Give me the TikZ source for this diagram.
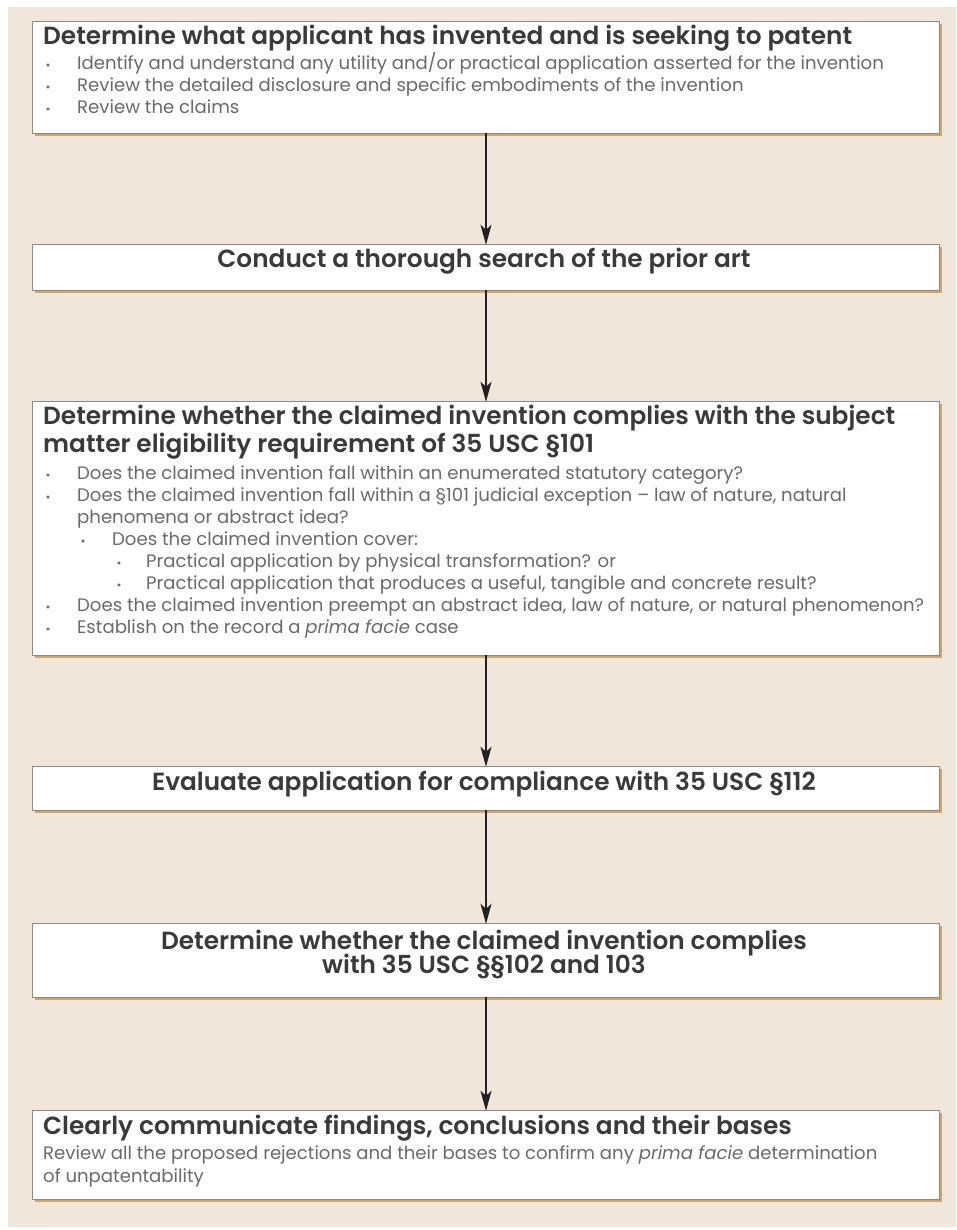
\documentclass[tikz,border=0pt]{standalone}
\usepackage{fontspec}
\setmainfont{Poppins}
\newfontfamily\titlefont{Poppins SemiBold}
\usetikzlibrary{arrows.meta}
\definecolor{beige}{HTML}{F0E6DA}
\definecolor{shadowtan}{HTML}{D2A56A}
\definecolor{boxline}{HTML}{8A8A8A}
\definecolor{titlecol}{HTML}{3A3A3A}
\definecolor{bodycol}{HTML}{6A6A6A}
\definecolor{arrowcol}{HTML}{222222}
\tikzset{
  titletext/.style={anchor=mid west, inner sep=0pt, text=titlecol, font=\fontsize{24.8}{28}\titlefont},
  ctitletext/.style={anchor=mid, inner sep=0pt, text=titlecol, font=\fontsize{24.8}{28}\titlefont},
  bodytext/.style={anchor=mid west, inner sep=0pt, text=bodycol, font=\fontsize{18.1}{22}\selectfont},
  bullet/.style={anchor=mid, inner sep=0pt, text=bodycol, font=\fontsize{12}{14}\selectfont},
  flow/.style={draw=arrowcol, line width=1.4pt, -{Stealth[length=20pt,width=11pt,inset=5pt]}}
}
\newcommand{\boxshadow}[1]{\fill[shadowtan] ([xshift=2.5pt,yshift=-2.5pt]#1.south west) rectangle ([xshift=2.5pt,yshift=-2.5pt]#1.north east);}
\begin{document}
\begin{tikzpicture}[x=1pt,y=-1pt]
\useasboundingbox (0,0) rectangle (956,1230);
\fill[white] (0,0) rectangle (956,1230);
\fill[beige] (8,7) rectangle (956,1227);

% boxes
\path (486,77.5) node[minimum height=111pt, minimum width=906pt, inner sep=0pt] (b1) {};
\path (486,267.5) node[minimum height=45pt, minimum width=906pt, inner sep=0pt] (b2) {};
\path (486,528.5) node[minimum height=253pt, minimum width=906pt, inner sep=0pt] (b3) {};
\path (486,788.5) node[minimum height=43pt, minimum width=906pt, inner sep=0pt] (b4) {};
\path (486,960.5) node[minimum height=73pt, minimum width=906pt, inner sep=0pt] (b5) {};
\path (486,1155) node[minimum height=88pt, minimum width=906pt, inner sep=0pt] (b6) {};
\foreach \b in {b1,b2,b3,b4,b5,b6}{
  \boxshadow{\b}
  \draw[boxline, line width=1.3pt, fill=white] (\b.south west) rectangle (\b.north east);
}

% box 1
\node[titletext] (t1) at (43,42) {Determine what applicant has invented and is seeking to patent};
\node[bullet] (t1a) at (48,67) {•};
\node[bodytext] (t1at) at (77,67) {Identify and understand any utility and/or practical application asserted for the invention};
\node[bullet] (t1b) at (48,89) {•};
\node[bodytext] (t1bt) at (77,89) {Review the detailed disclosure and specific embodiments of the invention};
\node[bullet] (t1c) at (48,111) {•};
\node[bodytext] (t1ct) at (77,111) {Review the claims};

% box 2
\node[ctitletext] (t2) at (484,265) {Conduct a thorough search of the prior art};

% box 3
\node[titletext] (t3a) at (43,422) {Determine whether the claimed invention complies with the subject};
\node[titletext] (t3b) at (43,450) {matter eligibility requirement of 35 USC §101};
\node[bullet] (u1) at (48,477) {•};
\node[bodytext] (u1t) at (77,477) {Does the claimed invention fall within an enumerated statutory category?};
\node[bullet] (u2) at (48,499) {•};
\node[bodytext] (u2t) at (77,499) {Does the claimed invention fall within a §101 judicial exception – law of nature, natural};
\node[bodytext] (u2u) at (77,521) {phenomena or abstract idea?};
\node[bullet] (u3) at (83,543) {•};
\node[bodytext] (u3t) at (112,543) {Does the claimed invention cover:};
\node[bullet] (u4) at (119,565) {•};
\node[bodytext] (u4t) at (146,565) {Practical application by physical transformation? or};
\node[bullet] (u5) at (119,587) {•};
\node[bodytext] (u5t) at (146,587) {Practical application that produces a useful, tangible and concrete result?};
\node[bullet] (u6) at (48,609) {•};
\node[bodytext] (u6t) at (77,609) {Does the claimed invention preempt an abstract idea, law of nature, or natural phenomenon?};
\node[bullet] (u7) at (48,631) {•};
\node[bodytext] (u7t) at (77,631) {Establish on the record a \textit{prima facie} case};

% box 4
\node[ctitletext] (t4) at (484,788) {Evaluate application for compliance with 35 USC §112};

% box 5
\node[ctitletext] (t5a) at (484,947) {Determine whether the claimed invention complies};
\node[ctitletext] (t5b) at (484,971) {with 35 USC §§102 and 103};

% box 6
\node[titletext] (t6) at (43,1132) {Clearly communicate findings, conclusions and their bases};
\node[bodytext] (t6a) at (43,1157) {Review all the proposed rejections and their bases to confirm any \textit{prima facie} determination};
\node[bodytext] (t6b) at (43,1180) {of unpatentability};

% connectors
\draw[flow] (b1.south) -- (b2.north);
\draw[flow] (b2.south) -- (b3.north);
\draw[flow] (b3.south) -- (b4.north);
\draw[flow] (b4.south) -- (b5.north);
\draw[flow] (b5.south) -- (b6.north);
\end{tikzpicture}
\end{document}
